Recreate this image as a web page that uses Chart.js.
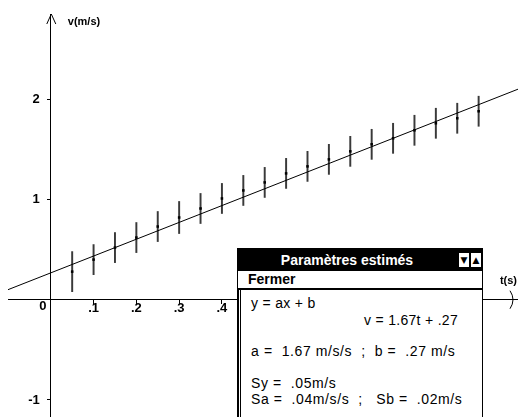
<!DOCTYPE html>
<html>
<head>
<meta charset="utf-8">
<script src="https://cdn.jsdelivr.net/npm/chart.js@4"></script>
<style>
  html, body { margin: 0; padding: 0; background: #fff; }
  #wrap { position: relative; width: 518px; height: 417px; overflow: hidden; }
  /* Chart.js keeps 4px at right and bottom, the holder is a bit larger than the view */
  #holder { position: absolute; left: 0; top: 0; width: 522px; height: 421px; }
  #box { position: absolute; left: 237px; top: 248px; width: 244px; height: 180px;
         background: #fff; border: 1px solid #000; font-family: 'Liberation Sans', Arial, sans-serif; color: #000; }
  #box .title { position: absolute; left: 0; top: 0; width: 244px; height: 22px; background: #000; }
  #box .title span { position: absolute; left: 0; width: 218px; top: 3px; text-align: center;
                     color: #fff; font-weight: bold; font-size: 14px; line-height: 16px; }
  #box .btn { position: absolute; top: 3px; width: 10px; height: 14px; background: #fff; border: 1px solid #000;
              font: 9px 'DejaVu Sans', sans-serif; line-height: 14px; text-align: center; }
  #box .menu { position: absolute; left: 0; top: 22px; width: 244px; height: 17px; border-bottom: 2px solid #000;
               font-weight: bold; font-size: 14px; line-height: 17px; }
  #box .menu span { margin-left: 10px; }
  #box .body { position: absolute; left: 0; top: 41px; width: 240px; height: 140px; border-left: 3px double #000; }
  #box .ln { position: absolute; white-space: pre; font-size: 14px; line-height: 16px; letter-spacing: 0.6px; }
</style>
</head>
<body>
<div id="wrap">
  <div id="holder"><canvas id="chart"></canvas></div>
  <div id="box">
    <div class="title"><span>Paramètres estimés</span><div class="btn" style="left:220px">▼</div><div class="btn" style="left:232px">▲</div></div>
    <div class="menu"><span>Fermer</span></div>
    <div class="ln" style="left:13px; top:46px; letter-spacing:0.3px">y = ax + b</div>
    <div class="ln" style="left:126px; top:63px; letter-spacing:0.3px">v = 1.67t + .27</div>
    <div class="ln" style="left:13px; top:94px">a =  1.67 m/s/s  ;  b =  .27 m/s</div>
    <div class="ln" style="left:13px; top:126px">Sy =  .05m/s</div>
    <div class="ln" style="left:13px; top:142px">Sa =  .04m/s/s  ;   Sb =  .02m/s</div>
    <div class="body"></div>
  </div>
</div>
<script>
// measured points t (s) / v (m/s)
const tValues = [0.05, 0.10, 0.15, 0.20, 0.25, 0.30, 0.35, 0.40, 0.45, 0.50,
                 0.55, 0.60, 0.65, 0.70, 0.75, 0.80, 0.85, 0.90, 0.95, 1.00];
const vValues = [0.28, 0.40, 0.52, 0.62, 0.73, 0.82, 0.91, 1.01, 1.09, 1.17,
                 1.26, 1.33, 1.40, 1.48, 1.55, 1.61, 1.69, 1.76, 1.81, 1.88];
const vErrors = [0.20, 0.15, 0.15, 0.15, 0.15, 0.16, 0.15, 0.15, 0.15, 0.15,
                 0.15, 0.15, 0.15, 0.15, 0.15, 0.15, 0.15, 0.15, 0.15, 0.15];

// fitted line v = 1.67t + .27, ends as seen on the picture
const fitT = [-0.1, 1.092];
const fitV = [0.10, 2.10];

const xTicks = [0.1, 0.2, 0.3, 0.4, 0.5, 0.6, 0.7, 0.8, 0.9, 1.0];
const xTickLabels = ['.1', '.2', '.3', '.4', '.5', '.6', '.7', '.8', '.9', '1'];
const yTicks = [-1, 1, 2];
const yTickLabels = ['-1', '1', '2'];

Chart.defaults.font.family = "'Liberation Sans', Arial, sans-serif";
Chart.defaults.color = '#000';

const decorations = {
  id: 'decorations',
  afterDraw(chart) {
    const { ctx, chartArea, scales: { x, y } } = chart;
    const x0 = x.getPixelForValue(0), y0 = y.getPixelForValue(0);
    ctx.save();
    ctx.strokeStyle = '#000';
    ctx.lineWidth = 1;
    // y arrow
    ctx.beginPath();
    ctx.moveTo(x0 - 4, chartArea.top + 10);
    ctx.lineTo(x0 + 0.5, chartArea.top);
    ctx.lineTo(x0 + 5, chartArea.top + 10);
    ctx.stroke();
    // x arrow
    ctx.beginPath();
    ctx.moveTo(chartArea.right - 8, y0 - 9);
    ctx.quadraticCurveTo(chartArea.right - 2, y0, chartArea.right - 8, y0 + 9);
    ctx.stroke();
    ctx.fillStyle = '#000';
    ctx.textBaseline = 'middle';
    ctx.font = "bold 13px 'Liberation Sans', Arial, sans-serif";
    ctx.textAlign = 'center';
    ctx.fillText('0', x0 - 8, y0 + 7);
    // y tick labels
    ctx.textAlign = 'right';
    yTicks.forEach((v, i) => ctx.fillText(yTickLabels[i], x0 - 11, y.getPixelForValue(v)));
    ctx.font = "bold 11px 'Liberation Sans', Arial, sans-serif";
    ctx.textAlign = 'left';
    ctx.fillText('v(m/s)', x0 + 17, chartArea.top + 8);
    ctx.textAlign = 'right';
    ctx.fillText('t(s)', chartArea.right - 1, y0 - 19);
    ctx.restore();
  }
};

new Chart(document.getElementById('chart'), {
  type: 'scatter',
  data: {
    datasets: [
      {
        type: 'scatter',
        data: tValues.map((t, i) => ({ x: t, y: vValues[i] })),
        pointStyle: 'rect',
        pointRadius: 1.8,
        backgroundColor: '#000',
        borderWidth: 0,
        order: 0
      },
      {
        type: 'line',
        data: fitT.map((t, i) => ({ x: t, y: fitV[i] })),
        borderColor: '#000',
        borderWidth: 1,
        pointRadius: 0,
        order: 1
      },
      {
        type: 'bar',
        data: tValues.map((t, i) => ({ x: t, y: [vValues[i] - vErrors[i], vValues[i] + vErrors[i]] })),
        backgroundColor: '#3a3a3a',
        borderWidth: 0,
        barThickness: 1.3,
        order: 2
      }
    ]
  },
  options: {
    responsive: true,
    maintainAspectRatio: false,
    animation: false,
    layout: { padding: { top: 14, left: 8, right: 0, bottom: 0 } },
    plugins: { legend: { display: false }, tooltip: { enabled: false } },
    scales: {
      x: {
        type: 'linear',
        min: -0.1,
        max: 1.092,
        offset: false,
        position: { y: 0 },
        afterBuildTicks: axis => { axis.ticks = [axis.min, ...xTicks, axis.max].map(v => ({ value: v })); },
        // the axis crosses the plot, it should not take room from it
        afterFit: axis => { axis.height = 0; axis.paddingLeft = 0; axis.paddingRight = 0; axis.paddingTop = 0; axis.paddingBottom = 0; },
        ticks: {
          callback: v => { const i = xTicks.indexOf(v); return i < 0 ? null : xTickLabels[i]; },
          autoSkip: false, maxRotation: 0, padding: -3,
          font: { size: 13, weight: 'bold' }
        },
        grid: { drawOnChartArea: false, drawTicks: true, tickLength: 4, color: '#000', offset: false },
        border: { color: '#000', width: 1 }
      },
      y: {
        type: 'linear',
        min: -1.17,
        max: 2.85,
        position: { x: 0 },
        afterBuildTicks: axis => { axis.ticks = [axis.min, ...yTicks, axis.max].map(v => ({ value: v })); },
        afterFit: axis => { axis.width = 0; axis.paddingLeft = 0; axis.paddingRight = 0; axis.paddingTop = 0; axis.paddingBottom = 0; },
        ticks: {
          // labels are written by the decorations plugin, this keeps the tick marks
          callback: v => (yTicks.indexOf(v) < 0 ? null : ''),
          autoSkip: false, padding: 0,
          font: { size: 13, weight: 'bold' }
        },
        grid: { drawOnChartArea: false, drawTicks: true, tickLength: 3, color: '#000' },
        border: { color: '#000', width: 1 }
      }
    }
  },
  plugins: [decorations]
});
</script>
</body>
</html>
